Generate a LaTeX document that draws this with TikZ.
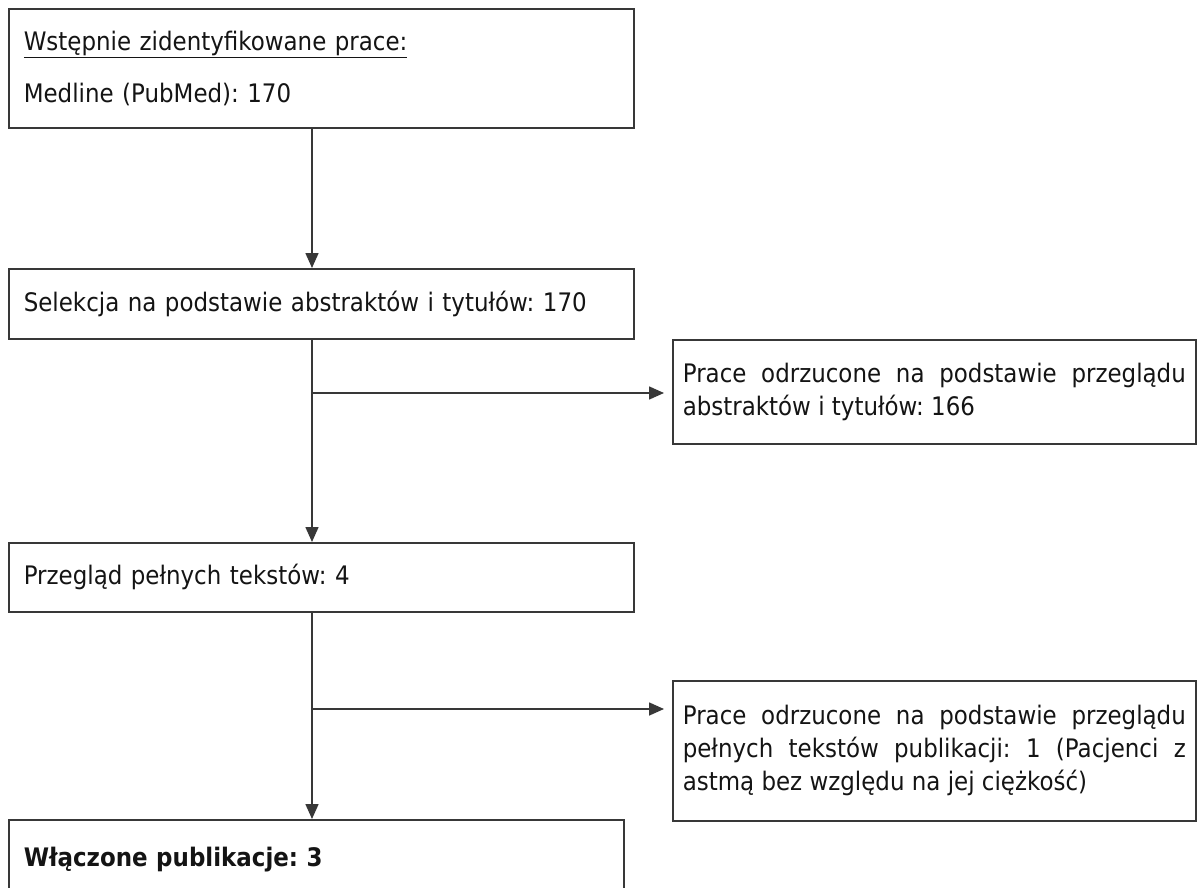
\documentclass[tikz,border=0pt]{standalone}
\usepackage{fontspec}
\setmainfont{DejaVu Sans}[FakeStretch=0.9]
\usetikzlibrary{arrows.meta}
\begin{document}
\frenchspacing
\begin{tikzpicture}[x=1pt,y=1pt,
  box/.style={draw=black!78, line width=1.6pt, anchor=north west, align=left,
    inner xsep=15pt, inner ysep=0pt, text=black!92,
    font={\fontsize{25.5}{33}\selectfont\hyphenpenalty=10000}},
  sidebox/.style={box, align=justify, inner xsep=10pt},
  arr/.style={draw=black!78, line width=1.6pt, -{Triangle[length=15pt,width=13pt]}}
]
\useasboundingbox (0,0) rectangle (1203,-888);
\fill[white] (0,0) rectangle (1203,-888);

\node[box, text width=595pt, minimum height=119pt] (b1) at (8,-8)
  {\underline{Wstępnie zidentyfikowane prace:}\\[19pt]Medline (PubMed): 170};
\node[box, text width=595pt, minimum height=70pt] (b2) at (8,-268)
  {Selekcja na podstawie abstraktów i tytułów: 170};
\node[sidebox, text width=503pt, minimum height=104pt] (r1) at (672,-339)
  {Prace odrzucone na podstawie przeglądu\linebreak abstraktów i tytułów: 166};
\node[box, text width=595pt, minimum height=69pt] (b3) at (8,-542)
  {Przegląd pełnych tekstów: 4};
\node[sidebox, text width=503pt, minimum height=140pt] (r2) at (672,-680)
  {Prace odrzucone na podstawie przeglądu\linebreak pełnych tekstów publikacji: 1 (Pacjenci z\linebreak astmą bez względu na jej ciężkość)};
\node[box, text width=585pt, minimum height=74pt, text depth=0pt] (b4) at (8,-819)
  {\textbf{Włączone publikacje: 3}};

\coordinate (spine) at (312,0);
\coordinate (a1) at ([yshift=-54pt]r1.north west);
\coordinate (a2) at ([yshift=-29pt]r2.north west);

\draw[arr] (b1.south -| spine) -- (b2.north -| spine);
\draw[arr] (b2.south -| spine) -- (b3.north -| spine);
\draw[arr] (b3.south -| spine) -- (b4.north -| spine);
\draw[arr, shorten >=8pt] (spine |- a1) -- (a1);
\draw[arr, shorten >=8pt] (spine |- a2) -- (a2);
\end{tikzpicture}
\end{document}
